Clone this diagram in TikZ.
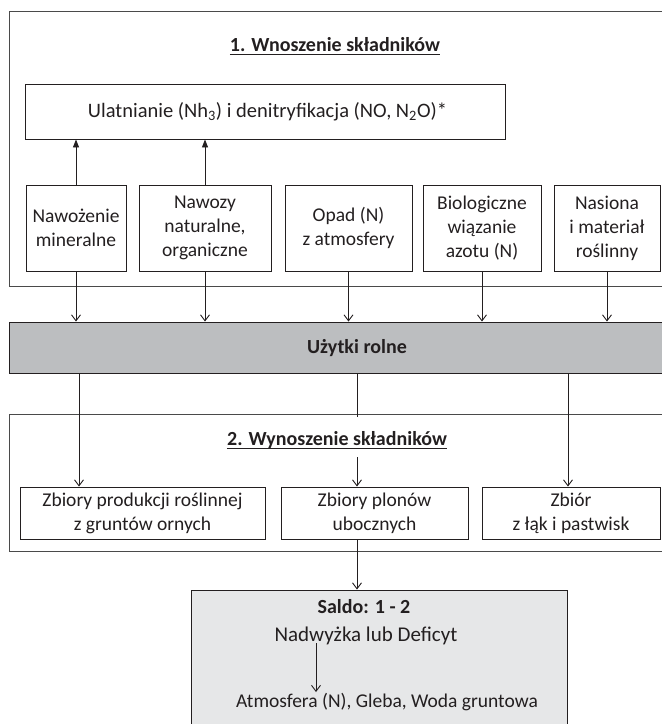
\documentclass[tikz,border=0pt]{standalone}
\usepackage{fontspec}
\setmainfont{Carlito}
\usetikzlibrary{arrows.meta}
\definecolor{ink}{HTML}{231F20}
\definecolor{frame}{HTML}{4A4A4A}
\definecolor{bandgray}{HTML}{BCBEC0}
\definecolor{saldogray}{HTML}{E6E7E8}
\tikzset{
  txt/.style={font=\fontsize{19.5}{24}\selectfont, align=center, text=ink},
  boxn/.style={txt, draw=ink, line width=0.9pt, inner sep=0pt},
  secbox/.style={draw=frame, line width=0.9pt, inner sep=0pt},
  ttl/.style={font=\fontsize{20}{24}\selectfont\bfseries, inner sep=0pt, text=ink},
  downarr/.style={draw=ink, line width=0.9pt, -{Straight Barb[length=6pt,width=9pt,line width=0.9pt]}},
  uparr/.style={draw=ink, line width=0.9pt, -{Triangle[length=8pt,width=6pt]}},
  plain/.style={draw=ink, line width=0.9pt},
}
\begin{document}
\begin{tikzpicture}[x=1pt,y=-1pt]
\useasboundingbox (0,0) rectangle (662,724);
\clip (0,0) rectangle (662,724);
% section frames
\node[secbox, minimum width=700, minimum height=275] (sec1) at (359,148.5) {};
\node[secbox, minimum width=700, minimum height=137] (sec2) at (359,482.5) {};
% titles
\node[ttl] (t1) at (335,45) {1. Wnoszenie składników};
\draw[plain, line width=1pt] ([yshift=-3pt]t1.base west) -- ([yshift=-3pt]t1.base east);
\node[ttl] (t2) at (337,440) {2. Wynoszenie składników};
\draw[plain, line width=1pt] ([yshift=-3pt]t2.base west) -- ([yshift=-3pt]t2.base east);
% emissions box
\node[boxn, minimum width=480, minimum height=55, font=\fontsize{20.5}{24}\selectfont] (ulat) at (265,111.5)
  {\hspace*{5pt}Ulatnianie (Nh\textsubscript{3}) i denitryfikacja (NO, N\textsubscript{2}O)*};
% inputs
\node[boxn, minimum width=100, minimum height=86] (n1) at (76,228) {Nawożenie\\mineralne};
\node[boxn, minimum width=132, minimum height=86] (n2) at (205,228) {Nawozy\\naturalne,\\organiczne};
\node[boxn, minimum width=127, minimum height=86] (n3) at (348.5,228) {Opad (N)\\z atmosfery};
\node[boxn, minimum width=118, minimum height=86] (n4) at (482,228) {Biologiczne\\wiązanie\\azotu (N)};
\node[boxn, minimum width=106, minimum height=86] (n5) at (607,228) {Nasiona\\i materiał\\roślinny};
% band
\node[boxn, fill=bandgray, minimum width=700, minimum height=51] (band) at (359,347.5) {};
\node[ttl] (bandtxt) at (357,348) {Użytki rolne};
% outputs
\node[boxn, minimum width=245, minimum height=52] (oa) at (142.5,513) {Zbiory produkcji roślinnej\\z gruntów ornych};
\node[boxn, minimum width=187, minimum height=52] (ob) at (374.5,513) {Zbiory plonów\\ubocznych};
\node[boxn, minimum width=178, minimum height=52] (oc) at (571,513) {Zbiór\\z łąk i pastwisk};
% saldo
\node[boxn, fill=saldogray, minimum width=376, minimum height=160] (saldo) at (379,670) {};
\node[ttl] (s1) at (364,607) {Saldo: 1 - 2};
\node[txt, inner sep=0pt, font=\fontsize{21}{24}\selectfont] (s2) at (366,636) {Nadwyżka lub Deficyt};
\node[txt, inner sep=0pt] (s3) at (387,702) {Atmosfera (N), Gleba, Woda gruntowa};
% coordinates
\coordinate (xa) at (79,0);
\coordinate (xb) at (357,0);
\coordinate (xc) at (568,0);
\coordinate (bt) at (357,417);
\coordinate (bs) at (357,457);
\coordinate (ia) at (316,643);
\coordinate (ib) at (316,692);
% up arrows
\draw[uparr] (n1.north) -- (n1.north |- ulat.south);
\draw[uparr] (n2.north) -- (n2.north |- ulat.south);
% down arrows to band
\foreach \n in {n1,n2,n3,n4,n5}
  \draw[downarr] (\n.south) -- (\n.south |- band.north);
% band to outputs
\draw[downarr] (band.south -| xa) -- (oa.north -| xa);
\draw[plain] (band.south -| xb) -- (bt);
\draw[downarr] (bs) -- (ob.north -| bs);
\draw[downarr] (band.south -| xc) -- (oc.north -| xc);
% to saldo
\draw[downarr] (ob.south -| xb) -- (saldo.north -| xb);
\draw[downarr] (ia) -- (ib);
\end{tikzpicture}
\end{document}
